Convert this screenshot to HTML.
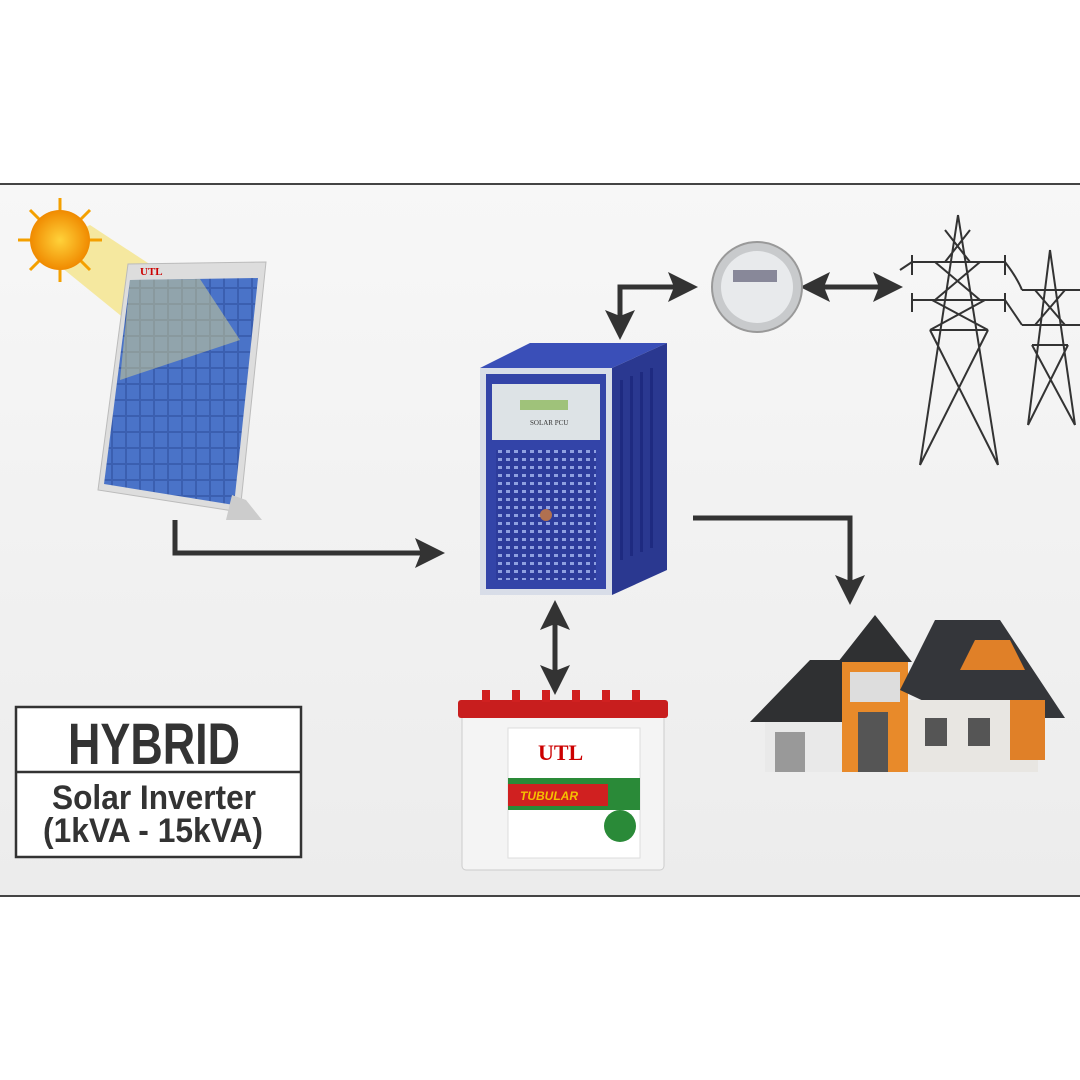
<!DOCTYPE html>
<html><head><meta charset="utf-8"><style>
html,body{margin:0;padding:0;background:#fff;}
svg{display:block;}
</style></head><body>
<svg width="1080" height="1080" viewBox="0 0 1080 1080" xmlns="http://www.w3.org/2000/svg">
<defs>
<linearGradient id="bg" x1="0" y1="0" x2="0" y2="1"><stop offset="0" stop-color="#f7f7f7"/><stop offset="1" stop-color="#ececec"/></linearGradient>
<radialGradient id="sun"><stop offset="0" stop-color="#ffd23a"/><stop offset="1" stop-color="#f08a00"/></radialGradient>
<pattern id="cells" width="14" height="16" patternUnits="userSpaceOnUse"><rect width="14" height="16" fill="#3b5fb0"/><rect x="1" y="1" width="12" height="14" fill="#4a73c8"/></pattern>
<pattern id="grill" width="8" height="8" patternUnits="userSpaceOnUse"><rect width="8" height="8" fill="#2d3c9c"/><rect x="2" y="2" width="4" height="3" fill="#8fa0e0"/></pattern>
<marker id="ah" markerWidth="6" markerHeight="6" refX="3" refY="3" orient="auto" markerUnits="strokeWidth"><path d="M0,0 L6,3 L0,6 L1.2,3 Z" fill="#333"/></marker>
</defs>
<rect x="0" y="0" width="1080" height="1080" fill="#fff"/>
<rect x="0" y="184" width="1080" height="712" fill="url(#bg)"/>
<line x1="0" y1="184" x2="1080" y2="184" stroke="#444" stroke-width="2"/>
<line x1="0" y1="896" x2="1080" y2="896" stroke="#444" stroke-width="2"/>

<polygon points="40,250 90,225 250,330 200,380" fill="#f5e27a" opacity="0.7"/>
<g stroke="#f4a000" stroke-width="3">
<line x1="60" y1="198" x2="60" y2="282"/><line x1="18" y1="240" x2="102" y2="240"/>
<line x1="30" y1="210" x2="90" y2="270"/><line x1="90" y1="210" x2="30" y2="270"/>
</g>
<circle cx="60" cy="240" r="30" fill="url(#sun)"/>

<polygon points="128,264 266,262 240,512 98,490" fill="#ddd" stroke="#bbb"/>
<polygon points="130,280 258,278 234,505 104,484" fill="url(#cells)"/>
<polygon points="130,280 200,279 240,340 120,380" fill="#e8e08a" opacity="0.45"/>
<text x="140" y="275" font-family="Liberation Serif,serif" font-size="11" font-weight="bold" fill="#c00">UTL</text>
<polygon points="232,495 246,500 262,520 226,520" fill="#ccc"/>

<polygon points="480,368 530,343 667,343 612,368" fill="#3a4fb8"/>
<polygon points="612,368 667,343 667,570 612,595" fill="#2a3890"/>
<rect x="480" y="368" width="132" height="227" fill="#d8dde8"/>
<rect x="486" y="374" width="120" height="215" fill="#3344a8"/>
<rect x="492" y="384" width="108" height="56" fill="#dde3e6"/>
<rect x="520" y="400" width="48" height="10" fill="#9fc27a"/>
<text x="530" y="425" font-family="Liberation Serif,serif" font-size="7" fill="#333">SOLAR PCU</text>
<rect x="496" y="450" width="100" height="130" fill="url(#grill)"/>
<circle cx="546" cy="515" r="6" fill="#b07050"/>
<g fill="#1e2a80"><rect x="620" y="380" width="3" height="180"/><rect x="630" y="376" width="3" height="180"/><rect x="640" y="372" width="3" height="180"/><rect x="650" y="368" width="3" height="180"/></g>

<g stroke="#333" stroke-width="5" fill="none">
<polyline points="175,520 175,553 430,553" marker-end="url(#ah)"/>
<polyline points="620,325 620,287 683,287" marker-end="url(#ah)"/>
<line x1="620" y1="300" x2="620" y2="325" marker-end="url(#ah)"/>
<line x1="850" y1="287" x2="888" y2="287" marker-end="url(#ah)"/>
<line x1="850" y1="287" x2="815" y2="287" marker-end="url(#ah)"/>
<polyline points="693,518 850,518 850,590" marker-end="url(#ah)"/>
<line x1="555" y1="648" x2="555" y2="615" marker-end="url(#ah)"/>
<line x1="555" y1="648" x2="555" y2="680" marker-end="url(#ah)"/>
</g>

<circle cx="757" cy="287" r="45" fill="#c8cacc" stroke="#999" stroke-width="2"/>
<circle cx="757" cy="287" r="36" fill="#e8eaec"/>
<rect x="733" y="270" width="44" height="12" fill="#889"/>

<g stroke="#333" stroke-width="2" fill="none">
<path d="M958,215 L920,465 M958,215 L998,465 M912,262 L1005,262 M912,300 L1005,300 M930,330 L988,330 M920,465 L988,330 M998,465 L930,330 M930,330 L985,300 M988,330 L932,300 M935,262 L980,300 M980,262 L935,300 M945,230 L970,262 M970,230 L945,262"/>
<path d="M912,255 L912,275 M1005,255 L1005,275 M912,293 L912,312 M1005,293 L1005,312"/>
<path d="M1050,250 L1028,425 M1050,250 L1075,425 M1022,290 L1080,290 M1022,325 L1080,325 M1032,345 L1068,345 M1028,425 L1068,345 M1075,425 L1032,345 M1035,290 L1065,325 M1065,290 L1035,325"/>
<path d="M1005,262 C1015,275 1020,285 1022,290 M1005,300 L1022,325 M912,262 L900,270"/>
</g>

<polygon points="750,722 810,660 900,660 880,722" fill="#2f3032"/>
<rect x="765" y="722" width="90" height="50" fill="#e9e9e9"/>
<rect x="775" y="732" width="30" height="40" fill="#999"/>
<polygon points="838,662 875,615 912,662" fill="#2f3032"/>
<rect x="842" y="662" width="66" height="110" fill="#e88a2a"/>
<rect x="858" y="712" width="30" height="60" fill="#555"/>
<rect x="850" y="672" width="50" height="30" fill="#ddd"/>
<polygon points="900,690 935,620 1000,620 1065,718 960,718" fill="#34363a"/>
<rect x="908" y="700" width="130" height="72" fill="#e8e6e2"/>
<rect x="1010" y="700" width="35" height="60" fill="#e08028"/>
<rect x="925" y="718" width="22" height="28" fill="#555"/>
<rect x="968" y="718" width="22" height="28" fill="#555"/>
<polygon points="975,640 1010,640 1025,670 960,670" fill="#e08028"/>

<rect x="462" y="708" width="202" height="162" rx="4" fill="#f4f4f4" stroke="#ccc"/>
<rect x="458" y="700" width="210" height="18" rx="3" fill="#c81e1e"/>
<g fill="#d02020"><rect x="482" y="690" width="8" height="12"/><rect x="512" y="690" width="8" height="12"/><rect x="542" y="690" width="8" height="12"/><rect x="572" y="690" width="8" height="12"/><rect x="602" y="690" width="8" height="12"/><rect x="632" y="690" width="8" height="12"/></g>
<rect x="508" y="728" width="132" height="130" fill="#fff" stroke="#ddd"/>
<text x="538" y="760" font-family="Liberation Serif,serif" font-size="22" font-weight="bold" fill="#c00">UTL</text>
<rect x="508" y="778" width="132" height="32" fill="#2a8a38"/>
<rect x="508" y="784" width="100" height="22" fill="#d02020"/>
<text x="520" y="800" font-family="Liberation Sans,sans-serif" font-size="12" font-style="italic" font-weight="bold" fill="#f5c000">TUBULAR</text>
<circle cx="620" cy="826" r="16" fill="#2a8a38"/>

<rect x="16" y="707" width="285" height="150" fill="#fff" stroke="#333" stroke-width="2.5"/>
<line x1="16" y1="772" x2="301" y2="772" stroke="#333" stroke-width="2.5"/>
<g font-family="Liberation Sans,sans-serif" font-weight="bold" fill="#333" text-anchor="middle">
<text x="154" y="764" font-size="58" textLength="172" lengthAdjust="spacingAndGlyphs">HYBRID</text>
<text x="154" y="809" font-size="34" textLength="204" lengthAdjust="spacingAndGlyphs">Solar Inverter</text>
<text x="153" y="842" font-size="34" textLength="220" lengthAdjust="spacingAndGlyphs">(1kVA - 15kVA)</text>
</g>
</svg>
</body></html>
